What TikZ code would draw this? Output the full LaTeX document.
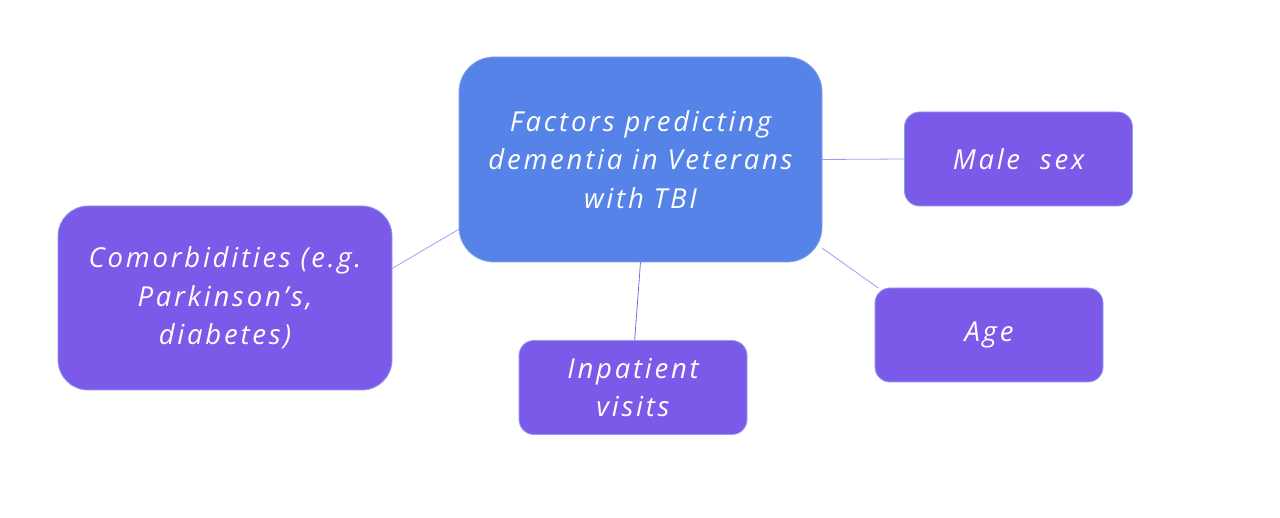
\documentclass[tikz,border=0pt]{standalone}
\usepackage{fontspec}
\setmainfont{Open Sans}[LetterSpace=10]
\usetikzlibrary{backgrounds}
\definecolor{cblue}{RGB}{86,131,232}
\definecolor{cpurple}{RGB}{123,90,234}
\definecolor{cborder}{RGB}{135,160,240}
\definecolor{cline}{RGB}{172,152,242}
\definecolor{cline2}{RGB}{135,100,230}
\tikzset{
  box/.style={draw=cborder, line width=0.8pt, text=white, align=center,
    inner sep=0pt, outer sep=0pt,
    font=\fontsize{27.5}{38.5}\selectfont\itshape},
  hub/.style={box, fill=cblue, rounded corners=35pt, minimum width=363pt, minimum height=205pt},
  leaf/.style={box, fill=cpurple, rounded corners=15pt, minimum width=228pt, minimum height=94pt},
  bigleaf/.style={box, fill=cpurple, rounded corners=30pt, minimum width=334pt, minimum height=184pt},
  link/.style={draw=cline, line width=0.8pt},
}
\begin{document}
\begin{tikzpicture}[x=1pt,y=-1pt]
\useasboundingbox (0,0) rectangle (1280,518);
\node[hub] (c) at (640.5,159.5) {Factors predicting\\dementia in Veterans\\with TBI};
\node[leaf] (m) at (1018.5,159) {Male\ \ sex};
\node[leaf] (a) at (989,335) {Age};
\node[leaf] (ip) at (633,387.5) {Inpatient\\visits};
\node[bigleaf] (co) at (225,298) {Comorbidities (e.g.\\Parkinson’s,\\diabetes)};
\begin{scope}[on background layer]
\draw[link] (c.east) -- (m.west);
\draw[link] (c.334) -- (a.157);
\draw[link, draw=cline2] (c.south) -- (ip.88);
\draw[link] (c.201) -- (co.10);
\end{scope}
\end{tikzpicture}
\end{document}
